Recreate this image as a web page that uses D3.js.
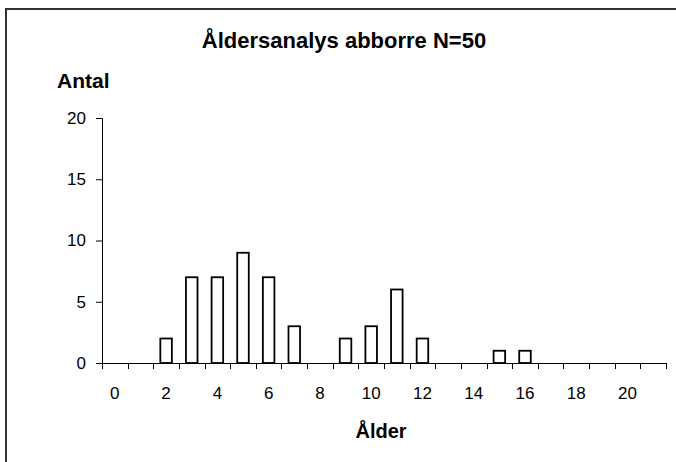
<!DOCTYPE html>
<html>
<head>
<meta charset="utf-8">
<script src="https://cdn.jsdelivr.net/npm/d3@7"></script>
<style>
  body { margin: 0; background: #fff; }
  svg { display: block; font-family: "Liberation Sans", Arial, sans-serif; }
</style>
</head>
<body>
<svg width="676" height="462"></svg>
<script>
var ages = d3.range(0, 22);
var counts = [0, 0, 2, 7, 7, 9, 7, 3, 0, 2, 3, 6, 2, 0, 0, 1, 1, 0, 0, 0, 0, 0];
var yTicks = [0, 5, 10, 15, 20];
var xTickLabels = [0, 2, 4, 6, 8, 10, 12, 14, 16, 18, 20];

var svg = d3.select("svg"),
  margin = { top: 118, right: 10, bottom: 99, left: 102 },
  width = 666 - margin.left,
  height = +svg.attr("height") - margin.top - margin.bottom;

// outer frame, clipped at right and bottom like the source
svg.append("rect")
  .attr("x", 6).attr("y", 9)
  .attr("width", 700).attr("height", 480)
  .attr("fill", "none")
  .attr("stroke", "#333")
  .attr("stroke-width", 2);

var x = d3.scaleBand().domain(ages).range([0, width]).paddingInner(0.55).paddingOuter(0.275),
  xb = d3.scaleBand().domain(ages).range([0, width]),
  y = d3.scaleLinear().domain([0, 20]).range([height, 0]);

var g = svg.append("g")
  .attr("transform", "translate(" + margin.left + "," + margin.top + ")");

// y axis
var yAxis = g.append("g")
  .call(d3.axisLeft(y).tickValues(yTicks).tickSize(6).tickPadding(10));
yAxis.select(".domain").attr("d", "M-6,0.5H0.5V" + (height + 0.5));

// x axis: ticks at category boundaries
var xAxis = g.append("g").attr("transform", "translate(0," + height + ")");
xAxis.append("line")
  .attr("x1", 0).attr("x2", width)
  .attr("y1", 0.5).attr("y2", 0.5)
  .attr("stroke", "#000");
xAxis.selectAll(".tk")
  .data(d3.range(0, 23))
  .enter().append("line")
  .attr("x1", function (d) { return Math.round(d * xb.step()) + 0.5; })
  .attr("x2", function (d) { return Math.round(d * xb.step()) + 0.5; })
  .attr("y1", 0).attr("y2", 6)
  .attr("stroke", "#000");
xAxis.selectAll(".lbl")
  .data(xTickLabels)
  .enter().append("text")
  .attr("x", function (d) { return xb(d) + xb.bandwidth() / 2; })
  .attr("y", 36)
  .attr("text-anchor", "middle")
  .attr("font-size", 17)
  .text(function (d) { return d; });

yAxis.selectAll("text").attr("font-size", 17).attr("fill", "#000").attr("font-family", "Liberation Sans, Arial, sans-serif");
yAxis.selectAll("line").attr("stroke", "#000");
yAxis.select(".domain").attr("stroke", "#000");

// bars
g.selectAll(".bar")
  .data(counts.map(function (c, i) { return { age: ages[i], n: c }; }).filter(function (d) { return d.n > 0; }))
  .enter().append("rect")
  .attr("class", "bar")
  .attr("x", function (d) { return x(d.age); })
  .attr("y", function (d) { return y(d.n); })
  .attr("width", x.bandwidth())
  .attr("height", function (d) { return height - y(d.n); })
  .attr("fill", "#fff")
  .attr("stroke", "#000")
  .attr("stroke-width", 1.8);

// titles
svg.append("text")
  .attr("x", 344).attr("y", 48)
  .attr("text-anchor", "middle")
  .attr("font-size", 22).attr("font-weight", "bold")
  .text("Åldersanalys abborre N=50");

svg.append("text")
  .attr("x", 57).attr("y", 88)
  .attr("font-size", 21).attr("font-weight", "bold")
  .text("Antal");

svg.append("text")
  .attr("x", 381).attr("y", 438)
  .attr("text-anchor", "middle")
  .attr("font-size", 20).attr("font-weight", "bold")
  .text("Ålder");
</script>
</body>
</html>
